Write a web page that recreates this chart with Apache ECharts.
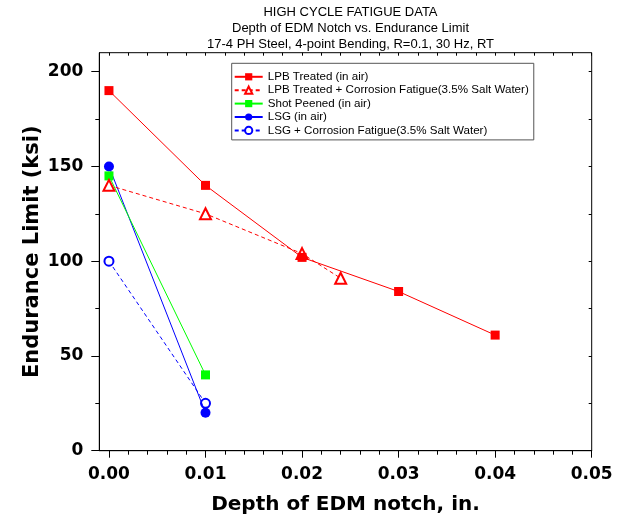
<!DOCTYPE html>
<html><head><meta charset="utf-8">
<script src="https://cdn.jsdelivr.net/npm/echarts@6/dist/echarts.min.js"></script>
<style>html,body{margin:0;padding:0;background:#fff}#c{width:621px;height:519px}</style>
</head><body><div id="c"></div>
<script>
const titleText = 'HIGH CYCLE FATIGUE DATA\nDepth of EDM Notch vs. Endurance Limit\n17-4 PH Steel, 4-point Bending, R=0.1, 30 Hz, RT';
const xName = 'Depth of EDM notch, in.';
const yName = 'Endurance Limit (ksi)';
const seriesNames = ['LPB Treated (in air)', 'LPB Treated + Corrosion Fatigue(3.5% Salt Water)', 'Shot Peened (in air)', 'LSG (in air)', 'LSG + Corrosion Fatigue(3.5% Salt Water)'];
const lpbX = [0, 0.01, 0.02, 0.03, 0.04];
const lpbY = [190, 140, 102, 84, 61];
const lpbCfX = [0, 0.01, 0.02, 0.024];
const lpbCfY = [140, 125, 104, 91];
const spX = [0, 0.01];
const spY = [145, 40];
const lsgX = [0, 0.01];
const lsgY = [150, 20];
const lsgCfX = [0, 0.01];
const lsgCfY = [100, 25];
const xMajorTicks = [0, 0.01, 0.02, 0.03, 0.04, 0.05];
const xMinorTicks = [0.002, 0.004, 0.006, 0.008, 0.012, 0.014, 0.016, 0.018, 0.022, 0.024, 0.026, 0.028, 0.032, 0.034, 0.036, 0.038, 0.042, 0.044, 0.046, 0.048];
const yMajorTicks = [0, 50, 100, 150, 200];
const yMinorTicks = [25, 75, 125, 175];

const pairs = (xs, ys) => xs.map((x, i) => [x, ys[i]]);
const X_MIN = -0.001, X_MAX = 0.05, Y_MIN = 0, Y_MAX = 210;
const tickFont = {fontFamily: 'DejaVu Sans', fontWeight: 'bold', fontSize: 17, color: '#000'};
const blk = {color: '#000', width: 1};

function xAx(extra) {
  return Object.assign({type: 'value', min: X_MIN, max: X_MAX, position: 'bottom',
    axisLine: {show: false, onZero: false}, splitLine: {show: false}, axisLabel: {show: false},
    axisTick: {show: false}}, extra);
}
function yAx(extra) {
  return Object.assign({type: 'value', min: Y_MIN, max: Y_MAX, position: 'left',
    axisLine: {show: false, onZero: false}, splitLine: {show: false}, axisLabel: {show: false},
    axisTick: {show: false}}, extra);
}

const chart = echarts.init(document.getElementById('c'));
chart.setOption({
  animation: false,
  backgroundColor: '#fff',
  title: {text: titleText, left: 345.5, top: -1, textAlign: 'center',
    textStyle: {fontFamily: 'Liberation Sans', fontWeight: 'normal', fontSize: 13, lineHeight: 16, color: '#000'}},
  grid: {left: 99.3, right: 29.3, top: 52.7, bottom: 68.3, show: true, borderColor: '#000', borderWidth: 1, outerBoundsMode: 'none', containLabel: false},
  legend: {
    data: seriesNames, orient: 'vertical', left: 231.7, top: 63.3,
    itemWidth: 28, itemHeight: 9, itemGap: 0.4,
    padding: [7, 5, 3, 2], borderColor: '#555', borderWidth: 1, backgroundColor: '#fff',
    textStyle: {fontFamily: 'Liberation Sans', fontSize: 11.6, lineHeight: 13, color: '#000'}
  },
  xAxis: [
    xAx({axisLine: {show: true, onZero: false, lineStyle: blk},
      axisTick: {show: true, length: 7, lineStyle: blk, customValues: xMajorTicks},
      axisLabel: Object.assign({show: true, margin: 15, customValues: xMajorTicks, formatter: v => v.toFixed(2)}, tickFont),
      name: xName, nameLocation: 'middle', nameGap: 44, nameMoveOverlap: false,
      nameTextStyle: {fontFamily: 'DejaVu Sans', fontWeight: 'bold', fontSize: 20, color: '#000'}}),
    xAx({axisTick: {show: true, length: 4, lineStyle: blk, customValues: xMinorTicks}}),
    xAx({position: 'top', axisTick: {show: true, inside: true, length: 3, lineStyle: blk, customValues: xMajorTicks.concat(xMinorTicks)}})
  ],
  yAxis: [
    yAx({axisLine: {show: true, onZero: false, lineStyle: blk},
      axisTick: {show: true, length: 8, lineStyle: blk, customValues: yMajorTicks},
      axisLabel: Object.assign({show: true, margin: 16, customValues: yMajorTicks}, tickFont),
      name: yName, nameLocation: 'middle', nameGap: 56, nameRotate: 90, nameMoveOverlap: false,
      nameTextStyle: {fontFamily: 'DejaVu Sans', fontWeight: 'bold', fontSize: 21, color: '#000'}}),
    yAx({axisTick: {show: true, length: 4, lineStyle: blk, customValues: yMinorTicks}}),
    yAx({position: 'right', axisTick: {show: true, inside: true, length: 3, lineStyle: blk, customValues: yMajorTicks.concat(yMinorTicks)}})
  ],
  series: [
    {name: seriesNames[0], type: 'line', data: pairs(lpbX, lpbY), symbol: 'rect', symbolSize: 9,
      itemStyle: {color: '#ff0000'}, lineStyle: {color: '#ff0000', width: 1}, z: 5},
    {name: seriesNames[1], type: 'line', data: pairs(lpbCfX, lpbCfY), symbol: 'emptyTriangle', symbolSize: 11,
      itemStyle: {color: '#ff0000', borderWidth: 1.2}, lineStyle: {color: '#ff0000', width: 1, type: [4, 3]}, z: 4},
    {name: seriesNames[2], type: 'line', data: pairs(spX, spY), symbol: 'rect', symbolSize: 9,
      itemStyle: {color: '#00ff00'}, lineStyle: {color: '#00ff00', width: 1}, z: 3},
    {name: seriesNames[3], type: 'line', data: pairs(lsgX, lsgY), symbol: 'circle', symbolSize: 10,
      itemStyle: {color: '#0000ff'}, lineStyle: {color: '#0000ff', width: 1}, z: 2},
    {name: seriesNames[4], type: 'line', data: pairs(lsgCfX, lsgCfY), symbol: 'emptyCircle', symbolSize: 9,
      itemStyle: {color: '#0000ff', borderWidth: 1}, lineStyle: {color: '#0000ff', width: 1, type: [4, 3]}, z: 1}
  ]
});
</script></body></html>
